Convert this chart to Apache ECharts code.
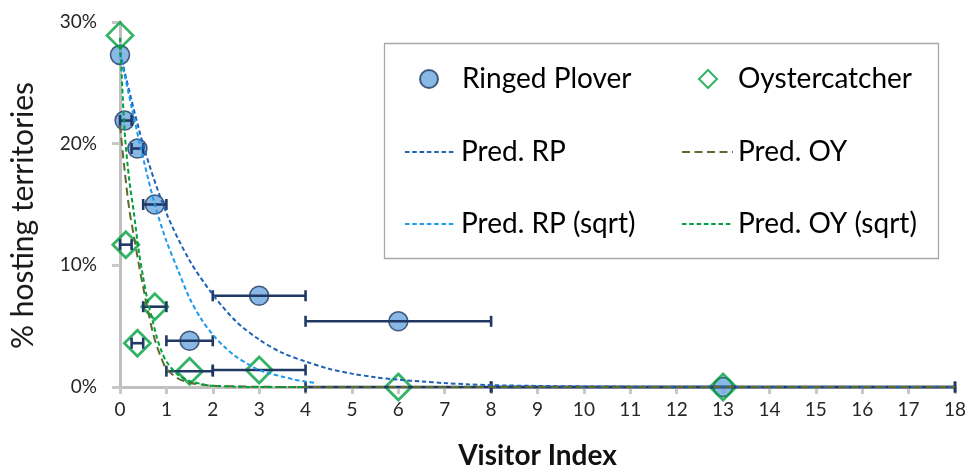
<!DOCTYPE html>
<html><head><meta charset="utf-8">
<script src="https://cdn.jsdelivr.net/npm/echarts@6/dist/echarts.min.js"></script>
<style>html,body{margin:0;padding:0;background:#fff}#c{width:973px;height:471px}</style>
</head><body><div id="c"></div>
<script>
// Observed data (x = Visitor Index, y = % hosting territories)
const rpX    = [0, 0.1, 0.375, 0.75, 1.5, 3, 6, 13];
const rpY    = [27.3, 21.9, 19.6, 15.0, 3.8, 7.5, 5.4, 0];
const rpLow  = [null, 0, 0.25, 0.5, 1, 2, 4, 8];
const rpHigh = [null, 0.25, 0.5, 1, 2, 4, 8, 18];

const oyX    = [0, 0.125, 0.375, 0.75, 1.5, 3, 6, 13];
const oyY    = [28.9, 11.7, 3.6, 6.6, 1.3, 1.4, 0, 0];
const oyLow  = [null, 0, 0.25, 0.5, 1, 2, 4, 8];
const oyHigh = [null, 0.25, 0.5, 1, 2, 4, 8, 18];

// Prediction curves
const predRpX = [0, 0.5, 1, 1.5, 2, 2.5, 3, 3.5, 4, 4.5, 5, 5.5, 6, 6.5, 7, 7.5, 8, 9, 10, 11, 12, 13, 14, 15, 16, 17, 18];
const predRpY = [27.5, 19.9, 14.3, 10.4, 7.6, 5.4, 3.9, 2.8, 2.1, 1.5, 1.1, 0.8, 0.6, 0.45, 0.32, 0.22, 0.15, 0.09, 0.05, 0.03, 0.02, 0.01, 0, 0, 0, 0, 0];

const predRpSqrtX = [0, 0.25, 0.5, 0.75, 1, 1.25, 1.5, 1.75, 2, 2.25, 2.5, 2.75, 3, 3.25, 3.5, 3.75, 4, 4.25];
const predRpSqrtY = [27.4, 23.0, 18.8, 15.0, 12.0, 9.6, 7.3, 5.6, 4.3, 3.3, 2.5, 1.9, 1.4, 1.1, 0.85, 0.62, 0.45, 0.32];

const predOyX = [0, 0.1, 0.2, 0.3, 0.4, 0.5, 0.6, 0.7, 0.8, 0.9, 1.0, 1.25, 1.5, 1.75, 2, 2.5, 3, 4, 6, 8, 10, 12, 14, 16, 18];
const predOyY = [21.5, 17.8, 14.6, 12.4, 10.2, 8.2, 6.3, 4.6, 3.3, 2.3, 1.5, 0.7, 0.35, 0.2, 0.1, 0.05, 0.02, 0, 0, 0, 0, 0, 0, 0, 0];

const predOySqrtX = [0, 0.1, 0.2, 0.3, 0.4, 0.5, 0.6, 0.7, 0.8, 0.9, 1.0, 1.25, 1.5, 1.75, 2, 2.5, 3, 3.5, 4];
const predOySqrtY = [28.7, 21.0, 17.0, 14.3, 11.3, 9.0, 7.0, 5.5, 4.0, 2.9, 2.1, 1.0, 0.5, 0.25, 0.1, 0.03, 0, 0, 0];

const xMin = 0, xMax = 18, xStep = 1;
const yMin = 0, yMax = 30, yStep = 10;

const zip = (xs, ys) => xs.map((x, i) => [x, ys[i]]);
const errRows = (xs, ys, lo, hi) => xs.map((x, i) => [x, ys[i], lo[i], hi[i]]).filter(r => r[2] !== null);

const FONT = 'Lato';

function errRender(params, api) {
  const y = api.value(1);
  const p1 = api.coord([api.value(2), y]);
  const p2 = api.coord([api.value(3), y]);
  const h = 5.5;
  const style = { stroke: '#1F3864', lineWidth: 2.6 };
  return { type: 'group', children: [
    { type: 'line', shape: { x1: p1[0], y1: p1[1], x2: p2[0], y2: p2[1] }, style },
    { type: 'line', shape: { x1: p1[0], y1: p1[1] - h, x2: p1[0], y2: p1[1] + h }, style },
    { type: 'line', shape: { x1: p2[0], y1: p2[1] - h, x2: p2[0], y2: p2[1] + h }, style }
  ]};
}

const lineSeries = (name, xs, ys, color, dash) => ({
  name, type: 'line', data: zip(xs, ys), symbol: 'none', showSymbol: false,
  smooth: 0.3, z: 5,
  lineStyle: { color, width: 2, type: dash },
  itemStyle: { color }
});

const legendText = { fontFamily: FONT, fontSize: 28, color: '#000', lineHeight: 30 };

const chart = echarts.init(document.getElementById('c'), null, { renderer: 'canvas' });
chart.setOption({
  animation: false,
  backgroundColor: '#fff',
  grid: { left: 120, right: 18, top: 22, bottom: 84, containLabel: false, outerBoundsMode: 'none' },
  xAxis: {
    type: 'value', min: xMin, max: xMax, interval: xStep,
    name: 'Visitor Index', nameLocation: 'middle', nameGap: 55,
    nameTextStyle: { fontFamily: FONT, fontSize: 28, fontWeight: 'bold', color: '#111' },
    axisLine: { show: true, onZero: false, lineStyle: { color: '#bfbfbf', width: 3 } },
    axisTick: { show: true, length: 7, lineStyle: { color: '#c8c8c8', width: 3 } },
    axisLabel: { fontFamily: FONT, fontSize: 19, color: '#262626', margin: 13 },
    splitLine: { show: false }
  },
  yAxis: {
    type: 'value', min: yMin, max: yMax, interval: yStep,
    name: '% hosting territories', nameLocation: 'middle', nameGap: 82, nameRotate: 90,
    nameTextStyle: { fontFamily: FONT, fontSize: 30, color: '#1a1a1a', padding: [0, 22, 0, 0] },
    axisLine: { show: true, lineStyle: { color: '#bfbfbf', width: 3 } },
    axisTick: { show: true, length: 8, lineStyle: { color: '#c8c8c8', width: 3 } },
    axisLabel: { fontFamily: FONT, fontSize: 19, color: '#262626', margin: 23, formatter: '{value}%' },
    splitLine: { show: false }
  },
  graphic: [{
    type: 'rect', z: 0, silent: true,
    shape: { x: 384.5, y: 43.5, width: 554, height: 215 },
    style: { fill: '#fff', stroke: '#a6a6a6', lineWidth: 1.3 }
  }],
  legend: [
    { data: ['Ringed Plover'], left: 419, top: 64, padding: 0, itemWidth: 18, itemHeight: 18,
      textStyle: Object.assign({ padding: [0, 0, 0, 19] }, legendText) },
    { data: ['Oystercatcher'], left: 698, top: 64, padding: 0, itemWidth: 18, itemHeight: 18,
      textStyle: Object.assign({ padding: [0, 0, 0, 16] }, legendText) },
    { data: ['Pred. RP', 'Pred. RP (sqrt)'], orient: 'vertical', left: 404, top: 137, padding: 0,
      itemWidth: 51, itemHeight: 14, itemGap: 42, itemStyle: { opacity: 0 },
      textStyle: legendText },
    { data: ['Pred. OY', 'Pred. OY (sqrt)'], orient: 'vertical', left: 681, top: 137, padding: 0,
      itemWidth: 51, itemHeight: 14, itemGap: 42, itemStyle: { opacity: 0 },
      textStyle: legendText }
  ],
  series: [
    { name: 'Ringed Plover', type: 'scatter', data: zip(rpX, rpY), symbol: 'circle', symbolSize: 19, z: 2,
      itemStyle: { color: '#6CA6DE', borderColor: '#1F3A62', borderWidth: 1.6 } },
    { name: 'Oystercatcher', type: 'scatter', data: zip(oyX, oyY), symbol: 'diamond', symbolSize: 26, z: 3,
      itemStyle: { color: 'rgba(255,255,255,0)', borderColor: '#00A03E', borderWidth: 2.8 } },
    { name: 'errRP', type: 'custom', renderItem: errRender, data: errRows(rpX, rpY, rpLow, rpHigh),
      encode: { x: [0, 2, 3], y: 1 }, z: 4, silent: true },
    { name: 'errOY', type: 'custom', renderItem: errRender, data: errRows(oyX, oyY, oyLow, oyHigh),
      encode: { x: [0, 2, 3], y: 1 }, z: 4, silent: true },
    lineSeries('Pred. RP', predRpX, predRpY, '#1F62B8', [4.5, 2.8]),
    lineSeries('Pred. RP (sqrt)', predRpSqrtX, predRpSqrtY, '#1A9BEF', [4.5, 2.8]),
    lineSeries('Pred. OY', predOyX, predOyY, '#5E6B2E', [8, 4.5]),
    lineSeries('Pred. OY (sqrt)', predOySqrtX, predOySqrtY, '#00A03E', [4.5, 2.8])
  ]
});
</script>
</body></html>
